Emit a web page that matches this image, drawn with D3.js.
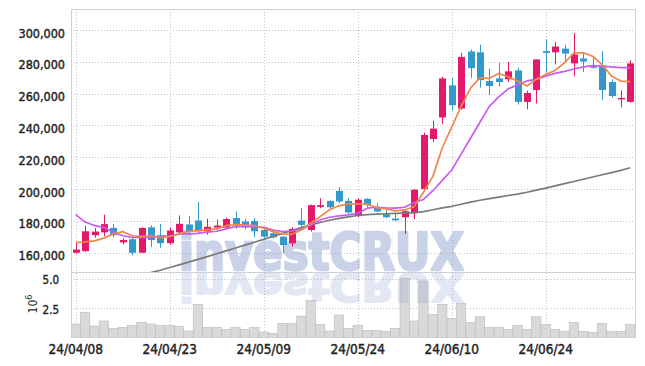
<!DOCTYPE html>
<html>
<head>
<meta charset="utf-8">
<script src="https://cdn.jsdelivr.net/npm/d3@7"></script>
<style>
  body { margin: 0; background: #fff; }
  text { font-family: "DejaVu Sans Condensed", "DejaVu Sans", sans-serif; }
</style>
</head>
<body>
<div id="chart"></div>
<script>
// trading days (yy/mm/dd)
const dates = ["24/04/08","24/04/09","24/04/11","24/04/12","24/04/15","24/04/16","24/04/17","24/04/18","24/04/19","24/04/22",
  "24/04/23","24/04/24","24/04/25","24/04/26","24/04/29","24/04/30","24/05/02","24/05/03","24/05/07","24/05/08",
  "24/05/09","24/05/10","24/05/13","24/05/14","24/05/16","24/05/17","24/05/20","24/05/21","24/05/22","24/05/23",
  "24/05/24","24/05/27","24/05/28","24/05/29","24/05/30","24/05/31","24/06/03","24/06/04","24/06/05","24/06/07",
  "24/06/10","24/06/11","24/06/12","24/06/13","24/06/14","24/06/17","24/06/18","24/06/19","24/06/20","24/06/21",
  "24/06/24","24/06/25","24/06/26","24/06/27","24/06/28","24/07/01","24/07/02","24/07/03","24/07/04","24/07/05"];

const open = [160000,161000,171000,172800,175600,166500,168500,160000,176000,171000,
  166000,172800,177800,180300,173500,175800,175800,181800,179700,179900,
  174300,172200,170100,165900,180200,174300,188800,192600,198900,192600,
  183200,193900,188600,184200,181500,182300,184800,200000,231500,245000,
  265200,250600,286500,286000,267900,269600,269000,274600,254800,262300,
  286700,286000,288300,279000,282100,277200,277700,267300,256800,254800];
const high = [166500,177000,175500,184000,178000,169000,169500,176000,177200,178000,
  176000,183500,183000,192000,181400,180800,182000,186000,181400,181800,
  175500,173000,170500,176000,188000,190300,194300,192800,201300,194300,
  194300,194300,191000,187300,184600,186500,200000,235500,243000,270600,
  270000,285600,287700,290800,275600,279400,280000,276300,261900,281500,
  294000,292300,290800,298100,285600,283000,286700,269000,262100,281000];
const low = [159500,160500,169500,170500,169500,165300,158300,160000,163600,163200,
  165000,171500,171500,172000,171300,174500,175500,175000,174700,169700,
  168500,169000,159600,163800,176400,173300,188000,187000,191200,184500,
  182300,188600,185500,182000,179800,171800,181000,199000,229500,240800,
  249600,250000,270000,263800,259200,264400,267300,253100,250200,253800,
  273500,278300,280400,271000,273500,275600,255800,257500,251300,254400];
const close = [162000,173500,173300,178000,171000,168000,160000,175600,168000,166000,
  174000,178200,173500,173500,176300,177100,181200,177100,176000,173500,
  170100,169700,164800,175000,177500,189900,189900,188600,192200,185300,
  193300,189900,185900,182300,180400,186100,199600,234000,238000,269600,
  252700,283100,276000,268500,264800,267300,274000,254800,260400,281500,
  285600,289600,285200,284600,280200,276800,262300,258500,257300,279000];

// volume, millions of shares
const volume = [1.19,2.18,1.02,1.44,0.82,0.90,1.07,1.33,1.19,1.07,
  1.07,1.00,0.59,2.85,0.90,0.90,0.73,0.90,0.73,0.90,
  0.51,0.40,1.24,1.24,1.86,3.19,1.16,0.59,1.95,0.82,
  1.07,0.65,0.65,0.57,0.82,5.06,1.44,4.83,2.00,2.85,
  1.67,2.94,1.33,1.81,0.90,0.90,0.73,1.07,0.73,1.81,
  1.16,0.73,0.56,1.33,0.56,0.48,1.24,0.56,0.56,1.16];

// moving averages, thousands
const maShort = [166.4,166.8,167.5,169.2,171.8,173.3,170.7,170.3,170.7,169.6,
  170.1,171.8,173.5,173.9,174.5,175.0,177.0,177.7,177.5,177.0,
  175.4,173.3,171.8,171.6,174.3,178.5,182.7,187.0,189.5,190.7,
  190.7,190.5,188.4,187.6,186.3,186.9,189.0,198.0,208.0,226.0,
  239.0,252.0,263.5,270.0,269.6,272.7,270.6,267.9,264.8,269.0,
  272.1,274.6,279.4,285.6,285.6,283.5,278.3,271.0,267.9,267.5];
const maMid = [184.0,179.3,177.1,176.0,172.8,170.7,169.6,169.6,169.6,170.3,
  170.7,171.8,171.8,172.2,173.0,173.5,175.0,176.4,176.4,176.4,
  176.0,174.3,173.3,173.7,174.7,177.5,180.6,182.3,183.2,183.8,
  184.8,188.0,188.6,188.2,188.0,188.6,191.6,193.5,199.0,205.5,
  212.0,222.0,232.0,242.0,252.0,258.0,263.0,265.5,268.0,269.0,
  271.0,272.7,274.0,275.5,276.8,277.6,277.3,276.8,276.3,276.3];
const maLong = [null,null,null,null,null,null,null,145.8,147.5,149.0,
  150.7,152.4,154.1,155.8,157.6,159.4,161.2,163.0,164.8,166.6,
  168.4,170.3,172.2,174.0,175.8,177.5,179.0,180.4,181.6,182.6,
  183.4,184.0,184.3,184.5,184.7,184.9,185.2,185.8,187.0,188.2,
  189.2,190.5,191.8,193.0,194.0,195.0,196.0,196.8,198.0,199.4,
  200.6,202.0,203.4,204.8,206.2,207.6,209.0,210.4,211.8,213.4];

const priceTicks = [160000,180000,200000,220000,240000,260000,280000,300000];
const volTicks = [2.5, 5.0];
const dateTicks = ["24/04/08","24/04/23","24/05/09","24/05/24","24/06/10","24/06/24"];

function drawChart() {
  const W = 645, H = 366;
  const L = 71, R = 635, T = 9, MID = 272, B = 338;
  const upColor = "#e5186b", downColor = "#3398cc";

  const svg = d3.select("#chart").append("svg")
      .attr("width", W)
      .attr("height", H);

  const x = d3.scaleBand().domain(dates).range([L, R]);
  const cx = d => x(d) + x.bandwidth() / 2;
  const y = d3.scaleLinear().domain([147900, 313200]).range([MID, T]);
  const yv = d3.scaleLinear().domain([0, 5.59]).range([B, MID]);

  const defs = svg.append("defs");
  defs.append("clipPath").attr("id", "clipPrice")
    .append("rect").attr("x", L).attr("y", T).attr("width", R - L).attr("height", MID - T);
  defs.append("clipPath").attr("id", "clipVol")
    .append("rect").attr("x", L).attr("y", MID + 1).attr("width", R - L).attr("height", B - MID - 1);

  // --- grid ---
  const grid = svg.append("g")
      .attr("stroke", "#bfc3d3")
      .attr("stroke-width", 1)
      .attr("stroke-dasharray", "1,2");
  grid.selectAll(".hp").data(priceTicks).join("line")
      .attr("x1", L).attr("x2", R)
      .attr("y1", d => Math.round(y(d)) + 0.5).attr("y2", d => Math.round(y(d)) + 0.5);
  grid.selectAll(".hv").data(volTicks).join("line")
      .attr("x1", L).attr("x2", R)
      .attr("y1", d => Math.round(yv(d)) + 0.5).attr("y2", d => Math.round(yv(d)) + 0.5);
  grid.selectAll(".vx").data(dateTicks).join("line")
      .attr("x1", d => Math.round(cx(d)) + 0.5).attr("x2", d => Math.round(cx(d)) + 0.5)
      .attr("y1", T).attr("y2", B);

  // --- volume bars ---
  svg.append("g").attr("clip-path", "url(#clipVol)")
    .selectAll("rect").data(dates).join("rect")
      .attr("x", d => x(d))
      .attr("width", x.bandwidth())
      .attr("y", (d, i) => yv(volume[i]))
      .attr("height", (d, i) => B - yv(volume[i]))
      .attr("fill", "#d9d9d9")
      .attr("stroke", "#bcbcbc")
      .attr("stroke-width", 0.6);

  // --- watermark (logo with its mirror image below the separator) ---
  const wm = svg.append("g").attr("pointer-events", "none");
  wm.append("text")
      .attr("x", 179).attr("y", 270)
      .attr("textLength", 285).attr("lengthAdjust", "spacingAndGlyphs")
      .style("font-size", "52px").style("font-weight", "bold")
      .attr("fill", "#8d9fcf").attr("stroke", "#8d9fcf").attr("stroke-width", 2.5)
      .attr("stroke-linejoin", "round")
      .attr("opacity", 0.46)
      .text("investCRUX");
  wm.append("g").attr("clip-path", "url(#clipVol)")
    .append("text")
      .attr("x", 179).attr("y", 270)
      .attr("transform", "translate(0,273) scale(1,-0.75) translate(0,-270)")
      .attr("textLength", 285).attr("lengthAdjust", "spacingAndGlyphs")
      .style("font-size", "52px").style("font-weight", "bold")
      .attr("fill", "#8d9fcf").attr("stroke", "#8d9fcf").attr("stroke-width", 2.5)
      .attr("stroke-linejoin", "round")
      .attr("opacity", 0.24)
      .text("investCRUX");

  // --- candles ---
  const candles = svg.append("g").attr("clip-path", "url(#clipPrice)");
  const col = i => close[i] >= open[i] ? upColor : downColor;
  candles.selectAll("line").data(dates).join("line")
      .attr("x1", d => Math.round(cx(d)) + 0.5).attr("x2", d => Math.round(cx(d)) + 0.5)
      .attr("y1", (d, i) => y(high[i])).attr("y2", (d, i) => y(low[i]))
      .attr("stroke", (d, i) => col(i))
      .attr("stroke-width", 1);
  candles.selectAll("rect").data(dates).join("rect")
      .attr("x", d => Math.round(cx(d)) + 0.5 - 3.5)
      .attr("width", 7)
      .attr("y", (d, i) => y(Math.max(open[i], close[i])))
      .attr("height", (d, i) => Math.max(1.5, Math.abs(y(open[i]) - y(close[i]))))
      .attr("fill", (d, i) => col(i));

  // --- moving averages ---
  const lines = svg.append("g").attr("clip-path", "url(#clipPrice)").attr("fill", "none");
  const maLine = d3.line()
      .defined(d => d.v != null)
      .x(d => cx(d.date))
      .y(d => y(d.v * 1000));
  const series = [
    { vals: maLong, color: "#7a7a7a" },
    { vals: maMid, color: "#c95cf0" },
    { vals: maShort, color: "#ef874b" }
  ];
  series.forEach(s => {
    lines.append("path")
        .datum(dates.map((d, i) => ({ date: d, v: s.vals[i] })))
        .attr("d", maLine)
        .attr("stroke", s.color)
        .attr("stroke-width", 1.7)
        .attr("stroke-linejoin", "round");
  });

  // --- frame ---
  const frame = svg.append("g").attr("stroke", "#cfcfd6").attr("stroke-width", 1);
  frame.append("line").attr("x1", L).attr("x2", R + 0.5).attr("y1", T + 0.5).attr("y2", T + 0.5);
  frame.append("line").attr("x1", L + 0.5).attr("x2", L + 0.5).attr("y1", T).attr("y2", B);
  frame.append("line").attr("x1", R + 0.5).attr("x2", R + 0.5).attr("y1", T).attr("y2", B);
  frame.append("line").attr("x1", L).attr("x2", R).attr("y1", MID + 0.5).attr("y2", MID + 0.5);

  // --- axes ---
  const yAxis = svg.append("g")
      .attr("transform", `translate(${L},0)`)
      .call(d3.axisLeft(y).tickValues(priceTicks).tickFormat(d3.format(",")).tickSize(0).tickPadding(6));
  yAxis.select(".domain").remove();
  yAxis.selectAll("text")
      .attr("dy", 7)
      .style("font-size", "12.5px")
      .attr("fill", "#222").attr("stroke", "#222").attr("stroke-width", 0.4);

  const vAxis = svg.append("g")
      .attr("transform", `translate(${L - 12},0)`)
      .call(d3.axisLeft(yv).tickValues(volTicks).tickFormat(d3.format(".1f")).tickSize(0).tickPadding(0));
  vAxis.select(".domain").remove();
  vAxis.selectAll("text")
      .attr("dy", 5)
      .style("font-size", "11.5px")
      .attr("fill", "#222").attr("stroke", "#222").attr("stroke-width", 0.35);

  const xAxis = svg.append("g")
      .attr("transform", `translate(0,${B})`)
      .call(d3.axisBottom(x).tickValues(dateTicks).tickSize(0).tickPadding(6));
  xAxis.select(".domain").remove();
  xAxis.selectAll("text")
      .style("font-size", "13.5px")
      .attr("fill", "#222").attr("stroke", "#222").attr("stroke-width", 0.4);

  // unit label for volume
  const unit = svg.append("text")
      .attr("transform", "translate(37,304) rotate(-90)")
      .attr("text-anchor", "middle")
      .style("font-size", "12px")
      .attr("fill", "#333");
  unit.append("tspan").text("10");
  unit.append("tspan").attr("dy", -5).style("font-size", "9px").text("6");
}

document.addEventListener("DOMContentLoaded", drawChart);
</script>
</body>
</html>
